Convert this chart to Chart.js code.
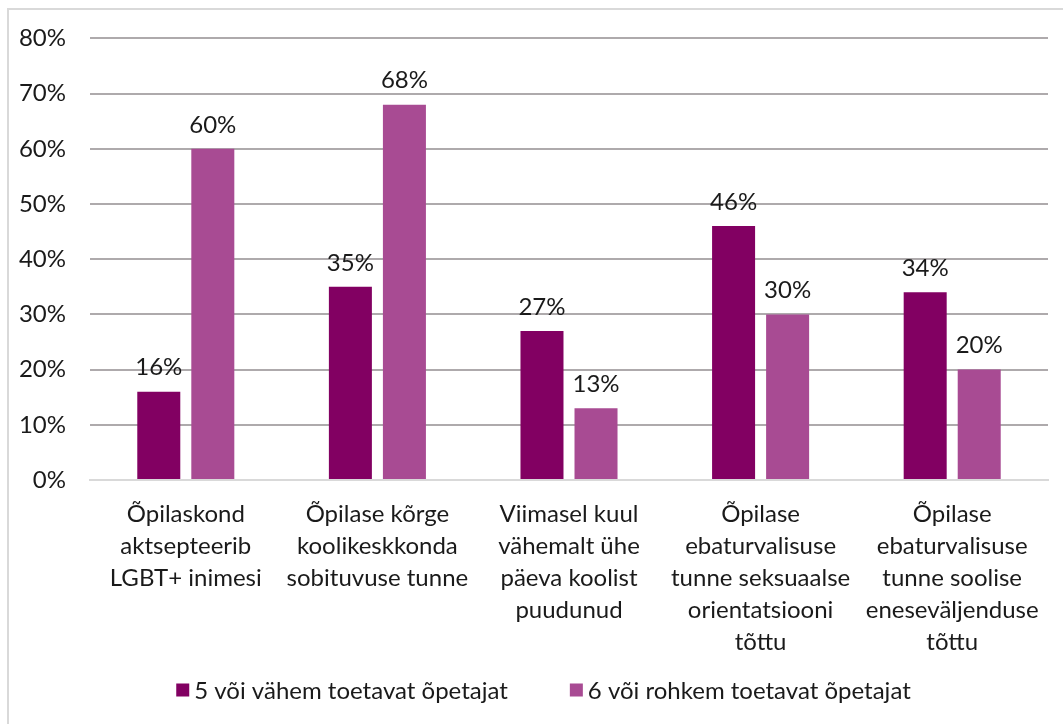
<!DOCTYPE html>
<html>
<head>
<meta charset="utf-8">
<script src="https://cdn.jsdelivr.net/npm/chart.js@4"></script>
<style>
  html, body { margin: 0; padding: 0; background: #fff; }
  #raam { position: absolute; left: 7px; top: 8px; width: 1070px; height: 730px; border: 2px solid #d9d9d9; box-sizing: border-box; }
  #graafik { position: absolute; left: 0; top: 0; }
</style>
</head>
<body>
<div id="raam"></div>
<canvas id="graafik" width="1063" height="724"></canvas>
<script>
// Kategooriad (mitmerealised sildid)
const kategooriad = [
  ['Õpilaskond', 'aktsepteerib', 'LGBT+ inimesi'],
  ['Õpilase kõrge', 'koolikeskkonda', 'sobituvuse tunne'],
  ['Viimasel kuul', 'vähemalt ühe', 'päeva koolist', 'puudunud'],
  ['Õpilase', 'ebaturvalisuse', 'tunne seksuaalse', 'orientatsiooni', 'tõttu'],
  ['Õpilase', 'ebaturvalisuse', 'tunne soolise', 'eneseväljenduse', 'tõttu']
];

const vahemOpetajaid = [16, 35, 27, 46, 34];
const rohkemOpetajaid = [60, 68, 13, 30, 20];

const seeriaNimed = ['5 või vähem toetavat õpetajat', '6 või rohkem toetavat õpetajat'];
const yTikid = [0, 10, 20, 30, 40, 50, 60, 70, 80];

const fondiPere = 'Lato, "Liberation Sans", sans-serif';
const tekstiVarv = '#1a1a1a';

// Väärtuste sildid tulpade kohal
const vaartuseSildid = {
  id: 'vaartuseSildid',
  afterDatasetsDraw(chart) {
    const ctx = chart.ctx;
    ctx.save();
    ctx.font = '24px ' + fondiPere;
    ctx.fillStyle = tekstiVarv;
    ctx.textAlign = 'center';
    ctx.textBaseline = 'middle';
    chart.data.datasets.forEach((ds, i) => {
      chart.getDatasetMeta(i).data.forEach((bar, j) => {
        ctx.fillText(ds.data[j] + '%', bar.x, bar.y - 24);
      });
    });
    ctx.restore();
  }
};

// Oma legend allosas (sisseehitatud legend ei luba eraldi vahesid)
const allLegend = {
  id: 'allLegend',
  afterDraw(chart) {
    const ctx = chart.ctx;
    ctx.save();
    ctx.font = '24px ' + fondiPere;
    ctx.textBaseline = 'middle';
    ctx.textAlign = 'left';
    const kast = 13, kastiVahe = 5, vahe = 62;
    const laiused = chart.data.datasets.map(ds => kast + kastiVahe + ctx.measureText(ds.label).width);
    const kokku = laiused.reduce((a, b) => a + b, 0) + vahe * (laiused.length - 1);
    let x = chart.width / 2 + 12 - kokku / 2;
    const y = 690;
    chart.data.datasets.forEach((ds, i) => {
      ctx.fillStyle = ds.backgroundColor;
      ctx.fillRect(x, y - kast / 2, kast, kast);
      ctx.fillStyle = tekstiVarv;
      ctx.fillText(ds.label, x + kast + kastiVahe, y + 1);
      x += laiused[i] + vahe;
    });
    ctx.restore();
  }
};

new Chart(document.getElementById('graafik'), {
  type: 'bar',
  data: {
    labels: kategooriad,
    datasets: [
      {
        label: seeriaNimed[0],
        data: vahemOpetajaid,
        backgroundColor: '#820062',
        categoryPercentage: 0.564,
        barPercentage: 0.796
      },
      {
        label: seeriaNimed[1],
        data: rohkemOpetajaid,
        backgroundColor: '#a84b93',
        categoryPercentage: 0.564,
        barPercentage: 0.796
      }
    ]
  },
  options: {
    responsive: false,
    animation: false,
    layout: { padding: { top: 34, right: 15, left: 10, bottom: 66 } },
    plugins: {
      legend: { display: false },
      tooltip: { enabled: false }
    },
    scales: {
      x: {
        grid: { display: false, drawTicks: false },
        border: { color: '#d9d9d9', width: 2 },
        ticks: {
          font: { family: fondiPere, size: 24, lineHeight: 1.333 },
          color: tekstiVarv,
          padding: 18,
          maxRotation: 0,
          autoSkip: false
        },
        afterFit(scale) { scale.height = 178; }
      },
      y: {
        min: 0,
        max: 80,
        afterBuildTicks(scale) { scale.ticks = yTikid.map(v => ({ value: v })); },
        grid: { color: '#aeaaac', lineWidth: 2, drawTicks: false },
        border: { display: false },
        ticks: {
          font: { family: fondiPere, size: 24 },
          color: tekstiVarv,
          padding: 24,
          callback: v => v + '%'
        },
        afterFit(scale) { scale.width = 80; }
      }
    }
  },
  plugins: [vaartuseSildid, allLegend]
});
</script>
</body>
</html>
